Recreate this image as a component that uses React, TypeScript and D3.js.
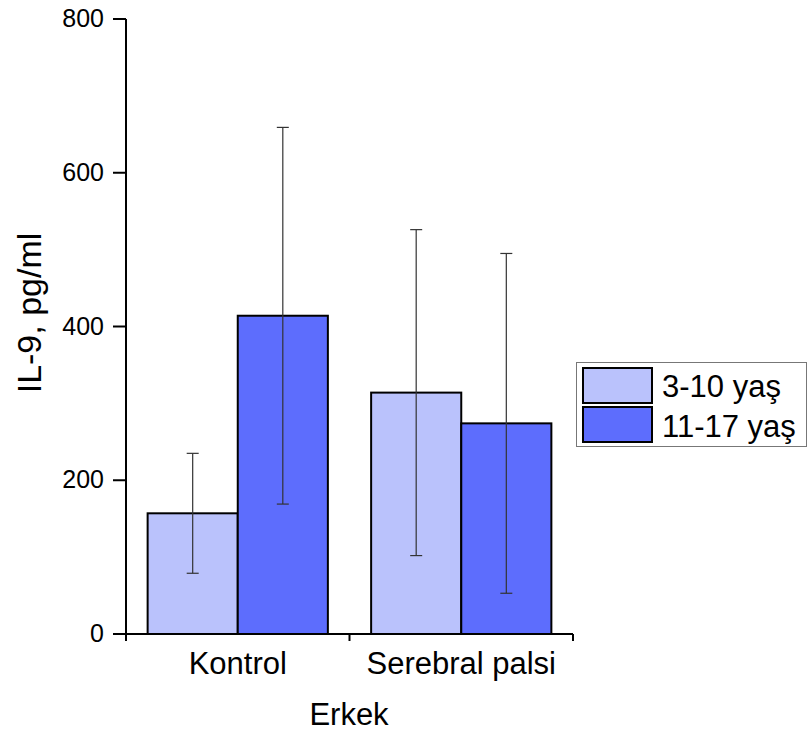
import React from 'react';
import * as d3 from 'd3';

// data
const categories = ['Kontrol', 'Serebral palsi'];
const groups = ['3-10 yaş', '11-17 yaş'];
const meanYoung = [157, 314];
const errYoung = [78, 212];
const meanOld = [414, 274];
const errOld = [245, 221];
const yTicks = [0, 200, 400, 600, 800];
const colors = ['#bac2fc', '#5d6dfd'];

const W = 810;
const H = 736;
const FONT = "'Liberation Sans', Arial, sans-serif";

export default function App() {
  const x0 = d3.scaleBand().domain(categories).range([126, 573]).padding(0);
  const x1 = d3.scaleBand().domain(groups).range([0, x0.bandwidth()]).paddingInner(0).paddingOuter(0.24);
  const y = d3.scaleLinear().domain([0, 800]).range([634, 19]);

  const rows = categories.flatMap((c, i) => [
    { cat: c, grp: groups[0], mean: meanYoung[i], err: errYoung[i] },
    { cat: c, grp: groups[1], mean: meanOld[i], err: errOld[i] },
  ]);
  const color = d3.scaleOrdinal<string, string>().domain(groups).range(colors);

  const xTicks = [...categories.map((c) => x0(c)!), x0.range()[1]];

  return (
    <svg width={W} height={H} style={{ position: 'absolute', left: 0, top: 0, background: '#fff' }} fontFamily={FONT}>
      {/* bars */}
      {rows.map((d) => {
        const bx = x0(d.cat)! + x1(d.grp)!;
        return (
          <rect
            key={d.cat + d.grp}
            x={bx}
            y={y(d.mean)}
            width={x1.bandwidth()}
            height={y(0) - y(d.mean)}
            fill={color(d.grp)}
            stroke='#000'
            strokeWidth={2}
          />
        );
      })}
      {/* error bars */}
      {rows.map((d) => {
        const cx = x0(d.cat)! + x1(d.grp)! + x1.bandwidth() / 2;
        const hi = y(d.mean + d.err);
        const lo = y(d.mean - d.err);
        return (
          <g key={'e' + d.cat + d.grp} stroke='#333' strokeWidth={1.2}>
            <line x1={cx} x2={cx} y1={hi} y2={lo} />
            <line x1={cx - 6} x2={cx + 6} y1={hi} y2={hi} />
            <line x1={cx - 6} x2={cx + 6} y1={lo} y2={lo} />
          </g>
        );
      })}
      {/* y axis */}
      <line x1={126} x2={126} y1={y(800)} y2={y(0) + 7} stroke='#000' strokeWidth={2} />
      {yTicks.map((t) => (
        <g key={t}>
          <line x1={113} x2={126} y1={y(t)} y2={y(t)} stroke='#000' strokeWidth={2} />
          <text x={104} y={y(t) + 8} textAnchor='end' fontSize={25} fill='#000'>
            {t}
          </text>
        </g>
      ))}
      {/* x axis */}
      <line x1={125} x2={x0.range()[1]} y1={y(0)} y2={y(0)} stroke='#000' strokeWidth={2} />
      {xTicks.map((t, i) => (
        <line key={i} x1={t} x2={t} y1={y(0)} y2={y(0) + 7} stroke='#000' strokeWidth={2} />
      ))}
      {categories.map((c) => (
        <text key={c} x={x0(c)! + x0.bandwidth() / 2} y={674} textAnchor='middle' fontSize={31} fill='#000'>
          {c}
        </text>
      ))}
      <text x={349} y={725} textAnchor='middle' fontSize={31} fill='#000'>
        Erkek
      </text>
      <text transform='translate(41,313) rotate(-90)' textAnchor='middle' fontSize={34} fill='#000'>
        IL-9, pg/ml
      </text>
      {/* legend */}
      <rect x={576.5} y={362.5} width={230} height={84} fill='#fff' stroke='#777' strokeWidth={1} />
      {groups.map((g, i) => (
        <g key={g}>
          <rect x={583} y={368 + i * 39} width={69} height={35} fill={color(g)} stroke='#000' strokeWidth={2} />
          <text x={662} y={397 + i * 40} fontSize={31} fill='#000'>
            {g}
          </text>
        </g>
      ))}
    </svg>
  );
}
